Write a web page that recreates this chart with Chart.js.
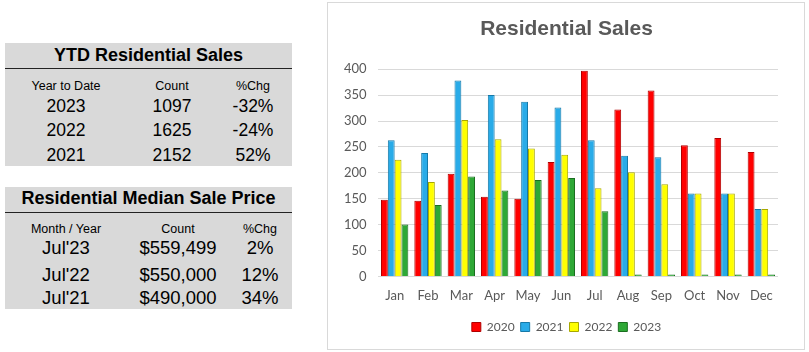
<!DOCTYPE html>
<html>
<head>
<meta charset="utf-8">
<script src="https://cdn.jsdelivr.net/npm/chart.js@4/dist/chart.umd.min.js"></script>
<style>
  body { margin: 0; background: #fff; font-family: Arial, "Liberation Sans", sans-serif; }
  .tbl { position: absolute; left: 5px; width: 287px; background: #d9d9d9; color: #000; }
  .tbl .ttl { position: absolute; left: 0; width: 100%; text-align: center; font-weight: bold; font-size: 18px; }
  .tbl .rule { position: absolute; left: 0; width: 100%; height: 1px; background: #222; }
  .tbl .cell { position: absolute; text-align: center; transform: translate(-50%, -50%); white-space: nowrap; }
  .tbl .hd { font-size: 12.5px; }
  #t1 .val { font-size: 17.5px; }
  #t2 .val { font-size: 18.5px; }
  #box { position: absolute; left: 327px; top: 2px; width: 476px; height: 346px; border: 1px solid #d9d9d9; }
</style>
</head>
<body>
<div class="tbl" id="t1" style="top:43px;height:123px;"></div>
<div class="tbl" id="t2" style="top:187px;height:122px;"></div>
<div id="box"><canvas id="myChart" width="476" height="346"></canvas></div>
<script>
const months = ['Jan', 'Feb', 'Mar', 'Apr', 'May', 'Jun', 'Jul', 'Aug', 'Sep', 'Oct', 'Nov', 'Dec'];
const sales2020 = [148, 146, 198, 154, 150, 221, 397, 322, 359, 253, 267, 240];
const sales2021 = [263, 238, 378, 350, 337, 326, 263, 233, 230, 160, 160, 130];
const sales2022 = [225, 182, 302, 265, 247, 235, 170, 201, 178, 160, 160, 130];
const sales2023 = [100, 138, 193, 166, 186, 190, 126, 0, 0, 0, 0, 0];

const ytdHeaders = ['Year to Date', 'Count', '%Chg'];
const ytdRows = [['2023', '1097', '-32%'], ['2022', '1625', '-24%'], ['2021', '2152', '52%']];
const priceHeaders = ['Month / Year', 'Count', '%Chg'];
const priceRows = [["Jul'23", '$559,499', '2%'], ["Jul'22", '$550,000', '12%'], ["Jul'21", '$490,000', '34%']];

function buildTable(id, title, headers, rows, cols, ys) {
    const el = document.getElementById(id);
    let html = '<div class="ttl" style="top:' + ys.title + 'px">' + title + '</div>';
    html += '<div class="rule" style="top:' + ys.rule + 'px"></div>';
    headers.forEach((h, i) => {
        html += '<div class="cell hd" style="left:' + cols[i] + 'px;top:' + ys.head + 'px">' + h + '</div>';
    });
    rows.forEach((r, j) => {
        r.forEach((v, i) => {
            html += '<div class="cell val" style="left:' + cols[i] + 'px;top:' + ys.rows[j] + 'px">' + v + '</div>';
        });
    });
    el.innerHTML = html;
}
buildTable('t1', 'YTD Residential Sales', ytdHeaders, ytdRows, [61, 167, 248],
    { title: 2, rule: 25, head: 43, rows: [63, 87, 112] });
buildTable('t2', 'Residential Median Sale Price', priceHeaders, priceRows, [61, 173, 255],
    { title: 1, rule: 25, head: 42, rows: [61, 88, 111] });

const ctx = document.getElementById('myChart').getContext('2d');

const data = {
    labels: months,
    datasets: [
        { label: '2020', data: sales2020, backgroundColor: '#ff0000', borderColor: '#b00000' },
        { label: '2021', data: sales2021, backgroundColor: '#29abe8', borderColor: '#1679a8' },
        { label: '2022', data: sales2022, backgroundColor: '#ffff00', borderColor: '#a8a800' },
        { label: '2023', data: sales2023, backgroundColor: '#2ea836', borderColor: '#1b6e20' }
    ]
};

const config = {
    type: 'bar',
    data: data,
    options: {
        responsive: false,
        animation: false,
        // title centres on the whole box, so y labels hang into the left padding (mirror = no clipping)
        layout: { padding: { left: 27, right: 26, top: 0, bottom: 6 } },
        datasets: {
            bar: { borderWidth: 1, barPercentage: 1, categoryPercentage: 0.82, minBarLength: 2 }
        },
        scales: {
            x: {
                grid: { display: false },
                border: { display: false },
                ticks: { color: '#595959', font: { family: 'Lato', size: 13 }, padding: 4 },
                afterFit(scale) { scale.height += 7; }
            },
            y: {
                min: 0,
                max: 400,
                ticks: {
                    stepSize: 50, color: '#595959', font: { family: 'Lato', size: 13 },
                    mirror: true, crossAlign: 'far', padding: -34
                },
                grid: { color: '#d9d9d9', drawTicks: false },
                border: { display: false },
                afterFit(scale) { scale.width = 23; }
            }
        },
        plugins: {
            title: {
                display: true,
                text: 'Residential Sales',
                color: '#595959',
                font: { family: 'Arial', size: 21, weight: 'bold' },
                padding: { top: 14, bottom: 27 }
            },
            legend: {
                position: 'bottom',
                labels: {
                    color: '#595959',
                    font: { family: 'Lato', size: 12 },
                    boxWidth: 9,
                    boxHeight: 9,
                    padding: 6
                }
            },
            tooltip: { enabled: false }
        }
    }
};

const myChart = new Chart(ctx, config);
</script>
</body>
</html>
